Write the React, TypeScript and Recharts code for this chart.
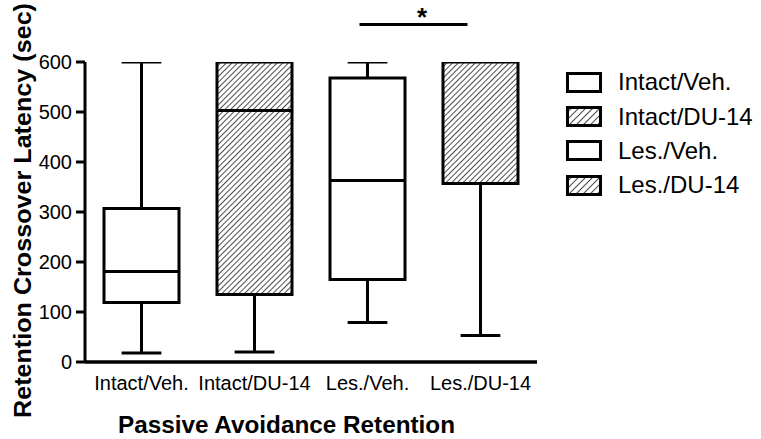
import React from 'react';
import { ComposedChart, Bar, XAxis, YAxis, Legend, ReferenceLine } from 'recharts';

const groups = ['Intact/Veh.', 'Intact/DU-14', 'Les./Veh.', 'Les./DU-14'];
const minValues = [18, 20, 79, 53];
const q1Values = [119, 135, 165, 357];
const medianValues = [181, 503, 363, 357];
const q3Values = [307, 600, 568, 600];
const maxValues = [600, 600, 600, 600];
const hatchedGroups = [false, true, false, true];
const yTicks = [0, 100, 200, 300, 400, 500, 600];
const sigFrom = 'Les./Veh.';
const sigTo = 'Les./DU-14';
const sigLevel = 675;
const sigMark = '*';
const xTitle = 'Passive Avoidance Retention';
const yTitle = 'Retention Crossover Latency (sec)';

const data = groups.map((g, i) => ({
  group: g,
  min: minValues[i],
  q1: q1Values[i],
  median: medianValues[i],
  q3: q3Values[i],
  max: maxValues[i],
  hatched: hatchedGroups[i],
  range: [minValues[i], maxValues[i]],
}));

const FONT = '"Liberation Sans", Arial, Helvetica, sans-serif';

const HatchPattern = ({ id, size }: { id: string; size: number }) => (
  <pattern id={id} patternUnits="userSpaceOnUse" width={size} height={size} patternTransform="rotate(45)">
    <rect x={0} y={0} width={size} height={size} fill="#fff" />
    <line x1={0} y1={0} x2={0} y2={size} stroke="#000" strokeWidth={1.4} />
  </pattern>
);

const BoxShape = (props: any) => {
  const { x, y, width, height, payload, index } = props;
  if (!payload) return null;
  const top = Math.min(y, y + height);
  const bottom = Math.max(y, y + height);
  const { min, max, q1, median, q3, hatched } = payload;
  const px = (v: number) => bottom - ((bottom - top) * (v - min)) / (max - min);
  const cx = x + width / 2;
  const capHalf = width * 0.265;
  const id = `hatch-box-${index}`;
  const sw = 3;
  return (
    <g>
      <defs>
        <HatchPattern id={id} size={4} />
      </defs>
      <line x1={cx} x2={cx} y1={px(max)} y2={px(q3)} stroke="#000" strokeWidth={sw} />
      <line x1={cx} x2={cx} y1={px(q1)} y2={px(min)} stroke="#000" strokeWidth={sw} />
      <line x1={cx - capHalf} x2={cx + capHalf} y1={px(max)} y2={px(max)} stroke="#000" strokeWidth={sw} />
      <line x1={cx - capHalf} x2={cx + capHalf} y1={px(min)} y2={px(min)} stroke="#000" strokeWidth={sw} />
      <rect
        x={x}
        y={px(q3)}
        width={width}
        height={px(q1) - px(q3)}
        fill={hatched ? `url(#${id})` : '#fff'}
        stroke="#000"
        strokeWidth={sw}
      />
      <line x1={x} x2={x + width} y1={px(median)} y2={px(median)} stroke="#000" strokeWidth={sw} />
    </g>
  );
};

const LegendContent = () => (
  <div style={{ fontFamily: FONT, fontSize: 24, color: '#000' }}>
    {groups.map((g, i) => (
      <div key={g} style={{ display: 'flex', alignItems: 'center', height: 34.4 }}>
        <svg width={36} height={21} style={{ marginRight: 16, display: 'block' }}>
          <defs>
            <HatchPattern id={`hatch-leg-${i}`} size={5} />
          </defs>
          <rect
            x={1.5}
            y={1.5}
            width={33}
            height={18}
            fill={hatchedGroups[i] ? `url(#hatch-leg-${i})` : '#fff'}
            stroke="#000"
            strokeWidth={3}
          />
        </svg>
        <span style={{ lineHeight: 1 }}>{g}</span>
      </div>
    ))}
  </div>
);

const SigLine = (p: any) => (
  <line x1={p.x1 - 8} x2={p.x2 - 13} y1={p.y1} y2={p.y2} stroke="#000" strokeWidth={3} />
);

const SigLabel = (p: any) => {
  const vb = p.viewBox || {};
  const cx = (vb.x ?? 0) + (vb.width ?? 0) / 2 - 2;
  return (
    <text x={cx} y={(vb.y ?? 0) + 1} textAnchor="middle" fontFamily={FONT} fontWeight="bold" fontSize={26} fill="#000">
      {sigMark}
    </text>
  );
};

export default function App() {
  return (
    <div style={{ position: 'absolute', left: 0, top: 0, width: 761, height: 439, background: '#fff' }}>
      <ComposedChart
        width={761}
        height={439}
        data={data}
        margin={{ top: 62, right: 224, bottom: 0, left: 0 }}
        style={{ fontFamily: FONT }}
      >
        <XAxis
          dataKey="group"
          type="category"
          height={77}
          tickLine={false}
          tickSize={6}
          tickMargin={8}
          axisLine={{ stroke: '#000', strokeWidth: 3.5 }}
          tick={{ fill: '#000', fontSize: 20, fontFamily: FONT }}
          interval={0}
        />
        <YAxis
          type="number"
          domain={[0, 600]}
          ticks={yTicks}
          width={85}
          tickSize={9}
          tickMargin={4}
          axisLine={{ stroke: '#000', strokeWidth: 3 }}
          tickLine={{ stroke: '#000', strokeWidth: 3 }}
          tick={{ fill: '#000', fontSize: 20, fontFamily: FONT }}
          allowDataOverflow
        />
        <Bar dataKey="range" barSize={75} shape={<BoxShape />} isAnimationActive={false} legendType="none" />
        <ReferenceLine
          segment={[
            { x: sigFrom, y: sigLevel },
            { x: sigTo, y: sigLevel },
          ]}
          ifOverflow="visible"
          shape={<SigLine />}
          label={<SigLabel />}
        />
        <Legend
          layout="vertical"
          verticalAlign="middle"
          align="center"
          content={<LegendContent />}
          wrapperStyle={{ top: 65, left: 566, right: 'auto', bottom: 'auto', width: 195 }}
        />
        <text
          x={30.5}
          y={210.5}
          transform="rotate(-90, 30.5, 210.5)"
          textAnchor="middle"
          fontFamily={FONT}
          fontWeight="bold"
          fontSize={23}
          fill="#000"
          textLength={415}
          lengthAdjust="spacingAndGlyphs"
        >
          {yTitle}
        </text>
        <text
          x={286.5}
          y={433}
          textAnchor="middle"
          fontFamily={FONT}
          fontWeight="bold"
          fontSize={23}
          fill="#000"
          textLength={337}
          lengthAdjust="spacingAndGlyphs"
        >
          {xTitle}
        </text>
      </ComposedChart>
    </div>
  );
}
